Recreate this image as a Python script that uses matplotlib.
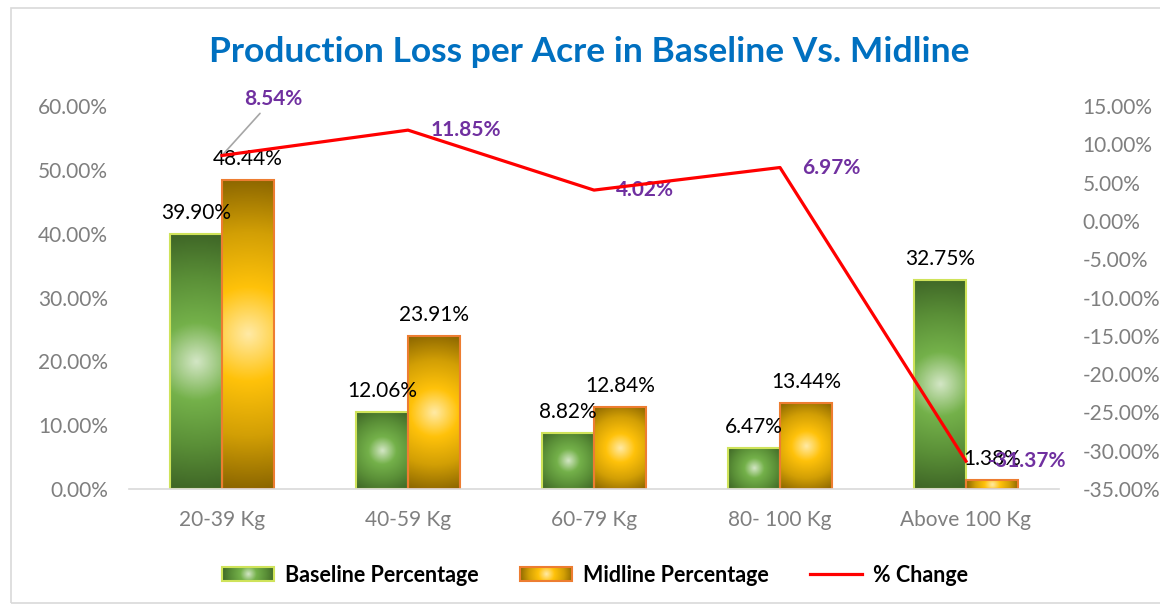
import numpy as np
import matplotlib
matplotlib.use("Agg")
import matplotlib.pyplot as plt
from matplotlib.colors import LinearSegmentedColormap, Normalize
from matplotlib.patches import Rectangle
from matplotlib.lines import Line2D
from matplotlib.legend_handler import HandlerBase
from matplotlib.image import BboxImage
from matplotlib.transforms import Bbox, TransformedBbox

plt.rcParams["font.family"] = ["Lato", "DejaVu Sans"]

categories = ["20-39 Kg", "40-59 Kg", "60-79 Kg", "80- 100 Kg", "Above 100 Kg"]
baseline = [39.90, 12.06, 8.82, 6.47, 32.75]
midline = [48.44, 23.91, 12.84, 13.44, 1.38]
change = [8.54, 11.85, 4.02, 6.97, -31.37]

left_ticks = np.arange(0, 61, 10)
right_ticks = np.arange(-35, 16, 5)

GREEN = LinearSegmentedColormap.from_list(
    "g", [(0, "#d3e6c5"), (0.3, "#74b14a"), (0.65, "#5a8f37"), (1, "#3e6526")])
ORANGE = LinearSegmentedColormap.from_list(
    "o", [(0, "#ffeaa6"), (0.3, "#ffc20a"), (0.65, "#d29f05"), (1, "#8a6500")])
GREEN_EDGE = "#cfe35a"
ORANGE_EDGE = "#ed7d31"
PURPLE = "#7030a0"
GREY = "#7f7f7f"


def radial(wpx, hpx):
    nx, ny = max(int(wpx), 2), max(int(hpx), 2)
    X, Y = np.meshgrid(np.linspace(-wpx / 2, wpx / 2, nx),
                       np.linspace(-hpx / 2, hpx / 2, ny))
    return np.hypot(X, Y) / np.hypot(wpx / 2, hpx / 2)


def gradient_fill(ax, rects, cmap):
    for r in rects:
        x0, y0, w, h = r.get_x(), r.get_y(), r.get_width(), r.get_height()
        p0 = ax.transData.transform((x0, y0))
        p1 = ax.transData.transform((x0 + w, y0 + h))
        wpx, hpx = np.abs(p1 - p0)
        im = ax.imshow(radial(wpx, hpx), cmap=cmap, vmin=0, vmax=1,
                       extent=(x0, x0 + w, y0, y0 + h), aspect="auto",
                       origin="lower", interpolation="bilinear", zorder=1)
        im.set_clip_path(r)


class GradientHandler(HandlerBase):
    def __init__(self, cmap, edge):
        super().__init__()
        self.cmap = cmap
        self.edge = edge

    def create_artists(self, legend, orig_handle, xdescent, ydescent,
                       width, height, fontsize, trans):
        x, y = -xdescent, -ydescent
        bb = TransformedBbox(Bbox.from_bounds(x, y, width, height), trans)
        img = BboxImage(bb, cmap=self.cmap, norm=Normalize(0, 1),
                        interpolation="bilinear")
        img.set_data(radial(width * 3, height * 3))
        rect = Rectangle((x, y), width, height, facecolor="none",
                         edgecolor=self.edge, lw=1.5, transform=trans)
        return [img, rect]


fig = plt.figure(figsize=(11.6, 6.05), dpi=100)
fig.patches.append(Rectangle((11 / 1160, 2 / 605), 1.1, 595 / 605,
                             transform=fig.transFigure, fill=False,
                             edgecolor="#d9d9d9", lw=1.2))
ax = fig.add_axes([129 / 1160, 1 - 489 / 605, 930 / 1160, 383 / 605])
x = np.arange(len(categories))
bw = 0.28

ax.set_xlim(-0.5, len(categories) - 0.5)
ax.set_ylim(0, 60)
b1 = ax.bar(x - bw / 2, baseline, bw, facecolor="none", edgecolor=GREEN_EDGE,
            lw=1.5, zorder=2)
b2 = ax.bar(x + bw / 2, midline, bw, facecolor="none", edgecolor=ORANGE_EDGE,
            lw=1.5, zorder=2)
ax.set_xlim(-0.5, len(categories) - 0.5)
ax.set_ylim(0, 60)
gradient_fill(ax, b1, GREEN)
gradient_fill(ax, b2, ORANGE)
ax.set_xlim(-0.5, len(categories) - 0.5)
ax.set_ylim(0, 60)

for bars, vals in ((b1, baseline), (b2, midline)):
    for r, v in zip(bars, vals):
        ax.annotate(f"{v:.2f}%", (r.get_x() + r.get_width() / 2, v),
                    xytext=(0, 8), textcoords="offset points",
                    ha="center", va="bottom", fontsize=15, color="black",
                    zorder=5)

ax.set_yticks(left_ticks)
ax.set_yticklabels([f"{t:.2f}%" for t in left_ticks])
ax.set_xticks(x)
ax.set_xticklabels(categories)
ax.tick_params(axis="y", length=0, pad=15, labelsize=15, labelcolor=GREY)
ax.tick_params(axis="x", length=0, pad=15, labelsize=15, labelcolor=GREY)
for s in ("top", "right", "left"):
    ax.spines[s].set_visible(False)
ax.spines["bottom"].set_color("#d9d9d9")
ax.spines["bottom"].set_linewidth(1.2)

ax2 = ax.twinx()
ax2.plot(x, change, color="#ff0000", lw=2.3, zorder=4)
ax2.set_ylim(-35, 15)
ax2.set_yticks(right_ticks)
ax2.set_yticklabels([f"{t:.2f}%" for t in right_ticks])
ax2.tick_params(axis="y", length=0, pad=17, labelsize=15, labelcolor=GREY)
for s in ax2.spines.values():
    s.set_visible(False)

for i, v in enumerate(change):
    if i == 0:
        ax2.annotate(f"{v:.2f}%", (x[i], v), xytext=(37, 41),
                     textcoords="offset points", ha="center", va="center",
                     fontsize=15, fontweight="bold", color=PURPLE,
                     arrowprops=dict(arrowstyle="-", color="#a6a6a6", lw=1.2,
                                     shrinkA=2, shrinkB=0))
    else:
        ax2.annotate(f"{v:.2f}%", (x[i], v), xytext=(16, 0),
                     textcoords="offset points", ha="left", va="center",
                     fontsize=15, fontweight="bold", color=PURPLE)

fig.text(0.508, 0.914, "Production Loss per Acre in Baseline Vs. Midline",
         ha="center", va="center", fontsize=25.5, fontweight="bold",
         color="#0070c0")

h1 = Rectangle((0, 0), 1, 1)
h2 = Rectangle((0, 0), 1, 1)
h3 = Line2D([], [], color="#ff0000", lw=2.3)
fig.legend([h1, h2, h3], ["Baseline Percentage", "Midline Percentage", "% Change"],
           handler_map={h1: GradientHandler(GREEN, GREEN_EDGE),
                        h2: GradientHandler(ORANGE, ORANGE_EDGE)},
           loc="center", bbox_to_anchor=(0.513, 1 - 575 / 605), ncol=3,
           frameon=False, prop={"weight": "bold", "size": 15.5},
           handlelength=2.42, handleheight=0.6, handletextpad=0.51,
           columnspacing=1.9)

fig.savefig("out.png", dpi=100, facecolor="white")
